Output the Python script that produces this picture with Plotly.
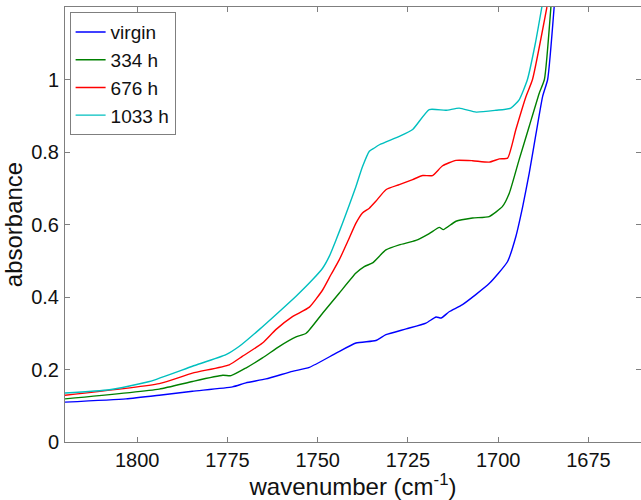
import plotly.graph_objects as go

# FTIR carbonyl region spectra after increasing exposure times
wn_virgin = [1820, 1803.1, 1793.9, 1784.7, 1773.6, 1769.9, 1764.3, 1757.0, 1752.3,
             1744.9, 1739.4, 1733.9, 1731.1, 1725.5, 1720.0, 1717.2, 1715.8, 1713.5,
             1709.9, 1702.5, 1697.4, 1695.1, 1693.2, 1691.4, 1689.5, 1687.7, 1686.3, 1684.5]
abs_virgin = [0.110, 0.119, 0.129, 0.140, 0.152, 0.163, 0.174, 0.195, 0.206,
              0.245, 0.273, 0.280, 0.296, 0.312, 0.328, 0.345, 0.342, 0.360,
              0.379, 0.437, 0.498, 0.567, 0.650, 0.742, 0.852, 0.953, 1.000, 1.200]

wn_334 = [1820, 1793.9, 1784.7, 1776.3, 1774.0, 1769.9, 1765.3, 1760.6, 1756.0,
          1753.2, 1748.6, 1744.0, 1739.4, 1737.1, 1734.8, 1731.1, 1727.4, 1722.8,
          1719.1, 1716.3, 1715.2, 1711.7, 1707.1, 1702.5, 1698.8, 1696.9, 1694.2,
          1691.4, 1688.6, 1687.2, 1685.4]
abs_334 = [0.119, 0.146, 0.167, 0.184, 0.183, 0.204, 0.232, 0.264, 0.290,
           0.300, 0.356, 0.411, 0.466, 0.484, 0.494, 0.530, 0.544, 0.556,
           0.575, 0.592, 0.586, 0.609, 0.618, 0.622, 0.650, 0.687, 0.779,
           0.871, 0.963, 1.000, 1.200]

wn_676 = [1820, 1793.9, 1784.7, 1774.5, 1770.9, 1765.3, 1761.6, 1757.0, 1752.3,
          1748.6, 1746.3, 1744.0, 1741.7, 1739.4, 1737.6, 1735.7, 1733.9, 1731.1,
          1727.4, 1723.7, 1720.9, 1718.2, 1715.4, 1711.7, 1707.1, 1702.5, 1699.7,
          1697.4, 1695.1, 1692.3, 1690.5, 1686.5]
abs_676 = [0.129, 0.161, 0.190, 0.213, 0.236, 0.273, 0.310, 0.346, 0.372,
           0.420, 0.462, 0.503, 0.553, 0.604, 0.632, 0.645, 0.664, 0.696,
           0.710, 0.724, 0.735, 0.735, 0.762, 0.777, 0.776, 0.772, 0.781,
           0.783, 0.862, 0.953, 1.000, 1.200]

wn_1033 = [1820, 1807.7, 1796.6, 1784.7, 1775.4, 1771.7, 1766.2, 1760.6, 1756.0,
           1751.4, 1748.6, 1746.8, 1744.9, 1743.1, 1741.2, 1739.4, 1737.6, 1735.7,
           1734.3, 1732.9, 1727.4, 1723.7, 1719.1, 1714.5, 1710.8, 1706.1, 1700.6,
           1696.5, 1694.2, 1691.9, 1689.7, 1687.9]
abs_1033 = [0.135, 0.144, 0.167, 0.209, 0.241, 0.264, 0.310, 0.360, 0.402,
            0.448, 0.480, 0.512, 0.558, 0.604, 0.655, 0.705, 0.759, 0.802,
            0.811, 0.820, 0.843, 0.862, 0.917, 0.915, 0.921, 0.910, 0.915,
            0.921, 0.944, 1.000, 1.100, 1.200]

series = [
    ("virgin", wn_virgin, abs_virgin, "#0000ff"),
    ("334 h", wn_334, abs_334, "#008000"),
    ("676 h", wn_676, abs_676, "#ff0000"),
    ("1033 h", wn_1033, abs_1033, "#00bfbf"),
]

x_ticks = [1800, 1775, 1750, 1725, 1700, 1675]
y_ticks = [0, 0.2, 0.4, 0.6, 0.8, 1]

fig = go.Figure()
for name, x, y, color in series:
    fig.add_trace(go.Scatter(x=x, y=y, mode="lines", name=name,
                             line=dict(color=color, width=1.4, shape="spline",
                                       smoothing=0.5)))

axis_common = dict(
    showline=True, linecolor="#7f7f7f", linewidth=1, mirror="ticks",
    ticks="inside", ticklen=5, tickcolor="#7f7f7f", tickwidth=1,
    showgrid=False, zeroline=False,
    tickfont=dict(family="Liberation Sans, Arial", size=20, color="#111111"),
)

fig.update_layout(
    width=641, height=500,
    margin=dict(l=65, r=0, t=7, b=58),
    paper_bgcolor="white", plot_bgcolor="white",
    font=dict(family="Liberation Sans, Arial", size=20, color="#111111"),
    xaxis=dict(range=[1820, 1660.44], tickvals=x_ticks,
               title=dict(text="wavenumber (cm<sup>-1</sup>)", standoff=4),
               **axis_common),
    yaxis=dict(range=[0, 1.2], tickvals=y_ticks, ticklabelstandoff=1,
               title=dict(text="absorbance", standoff=6),
               **axis_common),
    legend=dict(x=0.008, y=0.988, xanchor="left", yanchor="top",
                bgcolor="white", bordercolor="#7f7f7f", borderwidth=1,
                font=dict(family="Liberation Sans, Arial", size=19, color="#111111"),
                tracegroupgap=0, itemwidth=30),
    showlegend=True,
)

fig.write_html("out.html")
